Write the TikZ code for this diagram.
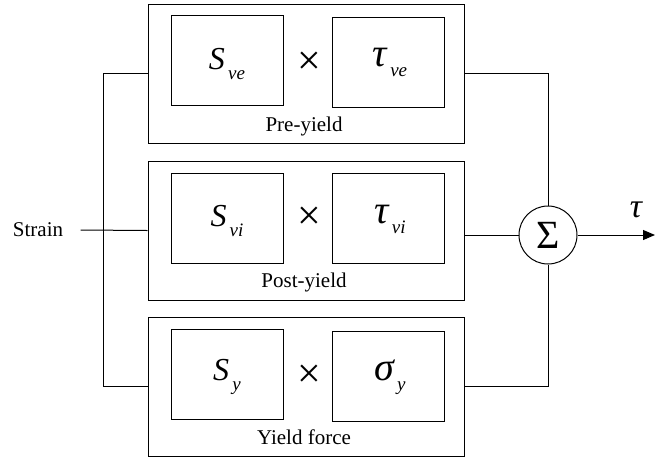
\documentclass[tikz,border=0pt]{standalone}
\usepackage{fontspec}
\setmainfont{Liberation Serif}
\usetikzlibrary{arrows.meta}
\newcommand\mysymb[3]{{\fontsize{#1}{#1}\selectfont\itshape #2}\raisebox{-10pt}{\fontsize{19}{19}\selectfont\itshape\,#3}}
\begin{document}
\begin{tikzpicture}[x=1pt,y=-1pt, line width=1pt,
  outerbox/.style={draw, minimum width=316pt, minimum height=139pt, inner sep=0pt},
  innerbox/.style={draw, minimum width=112pt, minimum height=90pt, inner sep=0pt},
  lbl/.style={font=\fontsize{21}{24}\selectfont, inner sep=0pt},
  formula/.style={inner sep=0pt},
  timesnode/.style={inner sep=0pt, font=\fontsize{42}{44}\selectfont},
  sumnode/.style={draw, circle, minimum size=58pt, inner sep=0pt}]
\useasboundingbox (0,0) rectangle (656,459);
% outer boxes
\node[outerbox] (box1) at (306,73.5) {};
\node[outerbox] (box2) at (306,230.5) {};
\node[outerbox] (box3) at (306,386.5) {};
% inner boxes
\node[innerbox] (a1) at (227.5,60.5) {};
\node[innerbox] (b1) at (388.5,62) {};
\node[innerbox] (a2) at (227.5,218) {};
\node[innerbox] (b2) at (388.5,218) {};
\node[innerbox] (a3) at (227.5,374) {};
\node[innerbox] (b3) at (388.5,376) {};
% formulas
\node[formula] (fa1) at (227,64) {\mysymb{32}{S}{ve}};
\node[formula] (fb1) at (390,62) {\mysymb{40}{τ}{ve}};
\node[formula] (fa2) at (227,221) {\mysymb{32}{S}{vi}};
\node[formula] (fb2) at (390,219) {\mysymb{40}{τ}{vi}};
\node[formula] (fa3) at (227,377) {\mysymb{32}{S}{y}};
\node[formula] (fb3) at (390,377) {\mysymb{40}{σ}{y}};
% times signs
\node[timesnode] (x1) at (309,63) {×};
\node[timesnode] (x2) at (309,218) {×};
\node[timesnode] (x3) at (309,376) {×};
% labels
\node[lbl] (l1) at (304,126) {Pre-yield};
\node[lbl] (l2) at (304,282) {Post-yield};
\node[lbl] (l3) at (304,437) {Yield force};
\node[lbl] (strain) at (38,230) {Strain};
% sum
\node[sumnode, font=\fontsize{40}{42}\selectfont] (sum) at (548,235) {Σ};
\node[inner sep=0pt, font=\fontsize{34}{36}\selectfont\itshape] (tau) at (636,210) {τ};
\coordinate (sv) at (103,230);
\coordinate (out) at (655,235);
% connectors
\draw ([xshift=17pt]strain.east) -- (box2.west);
\draw (box1.west) -- (box1.west -| sv) -- (box3.west -| sv) -- (box3.west);
\draw (box1.east) -| (sum.north);
\draw (box3.east) -| (sum.south);
\draw (box2.east |- sum) -- (sum.west);
\draw[-{Triangle[length=12pt,width=10pt]}] (sum.east) -- (out);
\end{tikzpicture}
\end{document}
